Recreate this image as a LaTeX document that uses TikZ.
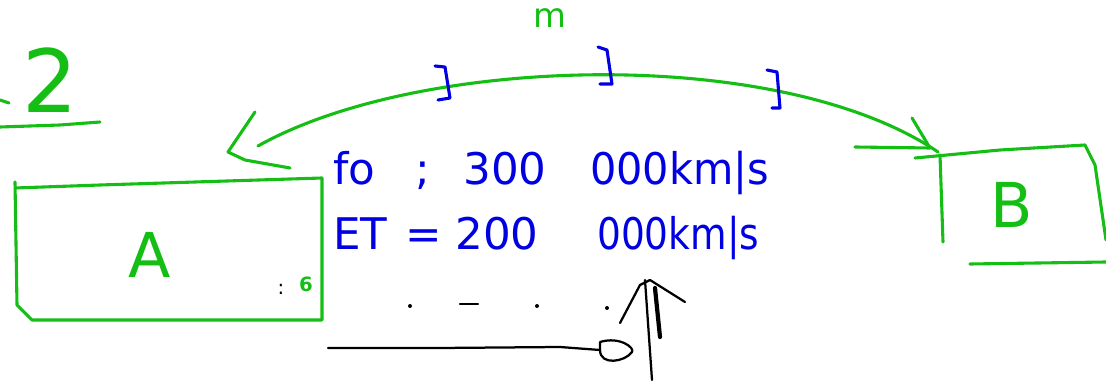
\documentclass[tikz,border=0pt]{standalone}
\usepackage{fontspec}
\setmainfont{DejaVu Sans}
\usetikzlibrary{arrows.meta}
\definecolor{pen}{RGB}{20,190,20}
\definecolor{ink}{RGB}{0,0,225}
\begin{document}
\begin{tikzpicture}[x=0.025cm,y=-0.025cm,
  gline/.style={draw=pen,line width=2.2pt,line cap=round,line join=round},
  bline/.style={draw=ink,line width=2.2pt,line cap=round,line join=round},
  kline/.style={draw=black,line width=1.6pt,line cap=round,line join=round},
  gtext/.style={text=pen,font=\fontsize{44}{46}\selectfont},
  btext/.style={text=ink,font=\fontsize{31}{33}\selectfont,anchor=base west,inner sep=0pt}]
\useasboundingbox (0,0) rectangle (1106,386);
% box A
\path[gline] (15,182) -- (17,305) -- (32,320) -- (322,320) -- (322,178) -- (100,185) -- (15,188);
\node[gtext] (A) at (150,255) {A};
% box B
\path[gline] (915,158) -- (1000,150) -- (1085,145) -- (1095,165) -- (1106,240);
\path[gline] (940,155) -- (943,242);
\path[gline] (970,264) -- (1106,262);
\node[gtext] (B) at (1012,205) {B};
% arc between A and B
\coordinate (aL) at (258,146);
\coordinate (aR) at (938,152);
\path[gline] (aL) .. controls (420,55) and (780,45) .. (aR);
\path[gline] (255,112) -- (228,152) -- (245,160) -- (290,168);
\path[gline] (912,118) -- (930,148) -- (855,147);
% ticks
\path[bline] (435,66) -- (445,67) -- (450,98) -- (438,100);
\path[bline] (598,47) -- (607,50) -- (612,84) -- (600,84);
\path[bline] (767,70) -- (777,72) -- (780,108) -- (772,108);
\node[text=pen,font=\fontsize{24}{26}\selectfont] (m) at (550,18) {m};
% 2
\node[text=pen,font=\fontsize{62}{64}\selectfont] (two) at (50,80) {2};
\path[gline] (0,100) -- (9,103);
\path[gline] (0,127) -- (60,125) -- (100,122);
% texts
\node[btext] (t1a) at (333,185) {fo};
\node[btext] (t1b) at (415,185) {;};
\node[btext] (t1c) at (463,185) {300};
\node[btext] (t1d) at (590,185) {\scalebox{0.95}[1]{000km|s}};
\node[btext] (t2a) at (333,250) {ET};
\node[btext] (t2b) at (405,250) {=};
\node[btext] (t2c) at (455,250) {200};
\node[btext] (t2d) at (597,250) {\scalebox{0.86}[1]{000km|s}};
% : 6
\node[font=\fontsize{14}{16}\selectfont] (colon) at (281,289) {:};
\node[text=pen,font=\bfseries\fontsize{14}{16}\selectfont] (six) at (306,284) {6};
% dots
\fill (410,306) circle (2);
\path[kline] (460,304) -- (478,304);
\fill (537,306) circle (2);
\fill (607,308) circle (2);
% horizontal arrow
\coordinate (hs) at (328,348);
\coordinate (he) at (630,352);
\path[kline] (hs) -- (440,348) -- (560,347) -- (600,350);
\path[kline] (600,342) .. controls (620,336) and (635,348) .. (632,352) .. controls (625,362) and (600,366) .. (600,350) -- (600,342);
% vertical arrow
\coordinate (vb) at (652,380);
\coordinate (vt) at (645,280);
\path[kline] (vb) -- (vt);
\path[kline] (620,323) -- (640,285) -- (650,280) -- (685,302);
\path[kline,line width=3pt] (655,288) -- (660,337);
\end{tikzpicture}
\end{document}
